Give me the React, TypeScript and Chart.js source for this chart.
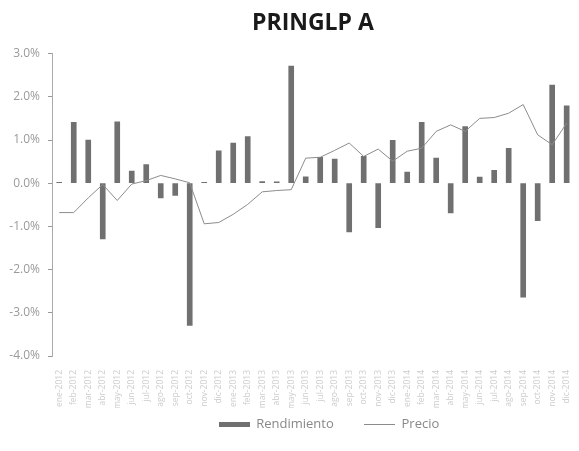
import React, { useEffect, useRef } from 'react';
import { Chart, registerables } from 'chart.js';

Chart.register(...registerables);

const categories = [
  'ene-2012', 'feb-2012', 'mar-2012', 'abr-2012', 'may-2012', 'jun-2012',
  'jul-2012', 'ago-2012', 'sep-2012', 'oct-2012', 'nov-2012', 'dic-2012',
  'ene-2013', 'feb-2013', 'mar-2013', 'abr-2013', 'may-2013', 'jun-2013',
  'jul-2013', 'ago-2013', 'sep-2013', 'oct-2013', 'nov-2013', 'dic-2013',
  'ene-2014', 'feb-2014', 'mar-2014', 'abr-2014', 'may-2014', 'jun-2014',
  'jul-2014', 'ago-2014', 'sep-2014', 'oct-2014', 'nov-2014', 'dic-2014',
];

// Rendimiento (%)
const rendimiento = [
  0.02, 1.41, 1.0, -1.29, 1.42, 0.28, 0.43, -0.34, -0.28, -3.29, 0.02, 0.75,
  0.93, 1.08, 0.04, 0.03, 2.71, 0.15, 0.6, 0.56, -1.13, 0.62, -1.03, 0.99,
  0.26, 1.41, 0.58, -0.69, 1.31, 0.14, 0.3, 0.81, -2.64, -0.87, 2.27, 1.79,
];

// Precio (secondary, hidden axis)
const precio = [
  23.32, 23.32, 23.66, 23.97, 23.6, 23.98, 24.06, 24.18, 24.1, 24.01, 23.06, 23.09,
  23.28, 23.51, 23.8, 23.83, 23.85, 24.58, 24.6, 24.76, 24.93, 24.62, 24.79, 24.51,
  24.74, 24.81, 25.2, 25.35, 25.2, 25.5, 25.52, 25.62, 25.82, 25.12, 24.89, 25.39,
];

const yTicks = [-4, -3, -2, -1, 0, 1, 2, 3];
const precioRange = [20, 27];
const legendLabels = ['Rendimiento', 'Precio'];

const BAR_COLOR = '#707070';
const LINE_COLOR = '#8c8c8c';

export default function App() {
  const ref = useRef<HTMLCanvasElement | null>(null);

  useEffect(() => {
    const canvas = ref.current;
    if (!canvas) return;
    const swatch = document.createElement('canvas');
    swatch.width = 31;
    swatch.height = 5;
    const sctx = swatch.getContext('2d');
    if (sctx) {
      sctx.fillStyle = BAR_COLOR;
      sctx.fillRect(0, 0, 31, 5);
    }

    const shiftLegend = {
      id: 'shiftLegend',
      afterLayout(chart: any) {
        if (chart.legend) {
          chart.legend.left += 16;
          chart.legend.right += 16;
        }
      },
    };

    const chart = new Chart(canvas, {
      type: 'bar',
      data: {
        labels: categories,
        datasets: [
          {
            type: 'bar',
            label: legendLabels[0],
            data: rendimiento,
            backgroundColor: BAR_COLOR,
            barThickness: 5,
            yAxisID: 'y',
            order: 2,
          },
          {
            type: 'line',
            label: legendLabels[1],
            data: precio,
            borderColor: LINE_COLOR,
            backgroundColor: LINE_COLOR,
            borderWidth: 1,
            pointRadius: 0,
            tension: 0,
            yAxisID: 'y1',
            order: 1,
          },
        ] as any,
      },
      options: {
        animation: false,
        responsive: true,
        maintainAspectRatio: false,
        layout: { padding: { left: 0, right: 0, top: 0, bottom: 10 } },
        plugins: {
          tooltip: { enabled: false },
          title: {
            display: true,
            text: 'PRINGLP A',
            fullSize: false,
            color: '#1a1a1a',
            font: { family: 'Open Sans', size: 23, weight: 700 as any },
            padding: { top: 10, bottom: 16 },
          },
          legend: {
            position: 'bottom',
            fullSize: false,
            labels: {
              usePointStyle: true,
              pointStyleWidth: 31,
              padding: 10,
              color: '#888',
              font: { family: 'Open Sans', size: 13 },
              generateLabels: () => [
                {
                  text: legendLabels[0] + '      ',
                  pointStyle: swatch as any,
                  fillStyle: BAR_COLOR,
                  strokeStyle: BAR_COLOR,
                  lineWidth: 0,
                  hidden: false,
                  datasetIndex: 0,
                  fontColor: '#888',
                },
                {
                  text: legendLabels[1],
                  pointStyle: 'line',
                  fillStyle: LINE_COLOR,
                  strokeStyle: LINE_COLOR,
                  lineWidth: 1,
                  hidden: false,
                  datasetIndex: 1,
                  fontColor: '#888',
                },
              ],
            },
          },
        },
        scales: {
          x: {
            grid: { display: false },
            border: { display: false },
            ticks: {
              color: '#cccccc',
              font: { family: 'Open Sans', size: 8.5 },
              minRotation: 90,
              maxRotation: 90,
              autoSkip: false,
              padding: 6,
            },
            afterFit: (s: any) => {
              s.height = 52;
            },
          },
          y: {
            position: 'left',
            min: yTicks[0],
            max: yTicks[yTicks.length - 1],
            afterBuildTicks: (s: any) => {
              s.ticks = yTicks.map((v) => ({ value: v }));
            },
            ticks: {
              color: '#9a9a9a',
              font: { family: 'Open Sans', size: 12 },
              padding: 8,
              callback: (v: any) => Number(v).toFixed(1) + '%',
            },
            grid: { drawOnChartArea: false, tickLength: 4, color: '#999' },
            border: { display: true, color: '#aaa', dash: [1, 2] },
            afterFit: (s: any) => {
              s.width = 52;
            },
          },
          y1: {
            display: false,
            min: precioRange[0],
            max: precioRange[1],
          },
        },
      },
      plugins: [shiftLegend],
    });
    return () => chart.destroy();
  }, []);

  return (
    <div style={{ position: 'fixed', left: 0, top: 0, width: 583, height: 451, background: '#fff' }}>
      <canvas ref={ref} />
    </div>
  );
}
